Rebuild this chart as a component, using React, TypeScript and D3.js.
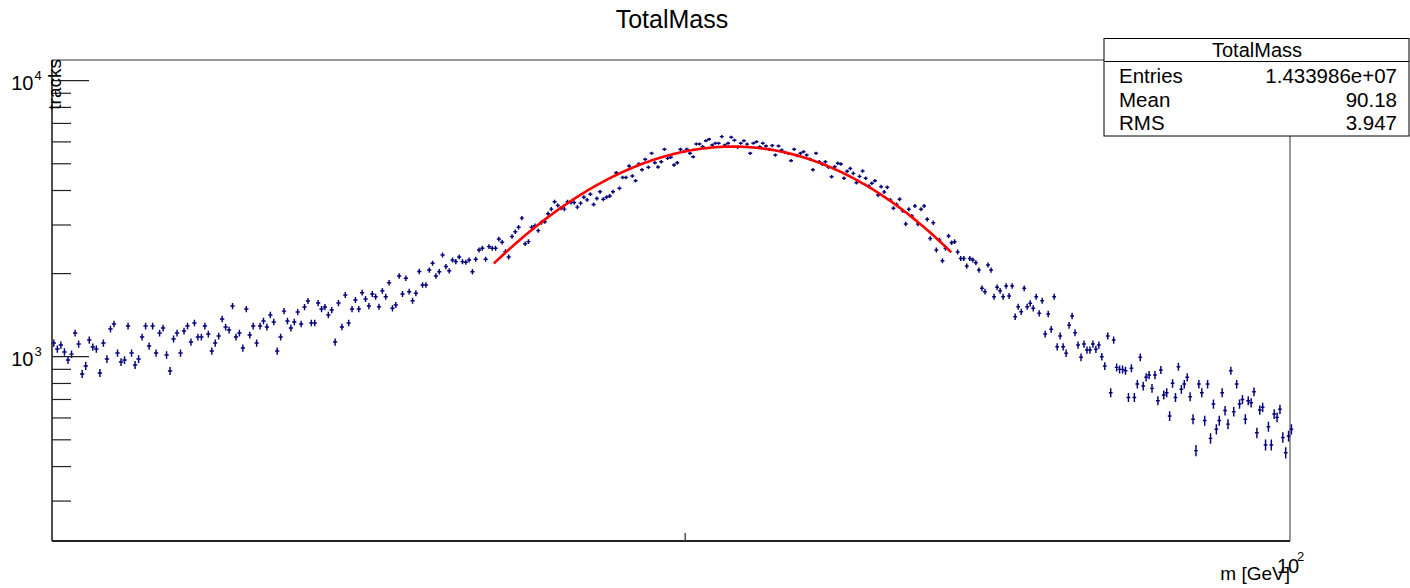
import React from 'react';
import * as d3 from 'd3';

// ---------- data ----------
const HIST_TITLE = 'TotalMass';
const X_LABEL = 'm [GeV]';
const Y_LABEL = 'tracks';
const X_LO = 80.6;
const X_HI = 100;
const BIN_W = 0.05;
const Y_MIN = 215;
const Y_MAX = 11880;

const countsA = [
  1121, 1066, 1102, 1040, 973, 1022, 1218, 1111, 866, 926,
  1149, 1084, 1066, 873, 1121, 981, 1260, 1314, 1031, 957,
  973, 1292, 1031, 934, 981, 1178, 1292, 1093, 1292, 1031,
  1218, 1270, 1014, 888, 1159, 1218, 1031, 1239, 1292, 1130,
  1325, 1178, 1178, 1292, 1208, 1048, 1121, 1188, 1370, 1281,
  1249, 1526, 1178, 1218, 1075, 1488, 1198, 1292, 1121, 1292,
  1347, 1281, 1416, 1336, 1048, 1178, 1463, 1347, 1270, 1336,
  1451, 1314, 1513, 1591, 1325, 1325, 1564, 1488, 1513, 1416,
  1476, 1130, 1564,
];
const countsB = [
  1282, 1673, 1325, 1488, 1605, 1488, 1706, 1619, 1526, 1688,
  1650, 1518, 1734, 1650, 1854, 1497, 1539, 1961, 1688, 1924,
  1720, 1595, 1698, 2036, 1819, 1819, 2061, 2180, 1961, 2032,
  2335, 2121, 2048, 2241, 2210, 2296, 2210, 2200, 2241, 2032,
  2254, 2436, 2472, 2254, 2505, 2472, 2472, 2668, 2600, 2400,
  2296, 2725, 2838, 2945, 3177, 2566, 2612, 2945, 2983, 2863,
  3063, 3084, 3297, 3425, 3645, 3528, 3455, 3425, 3645, 3622,
  3622, 3482,
];
const countsC = [3600, 3780, 3700, 3880, 3560, 3740];
const countsD = [
  3960, 3720, 3780, 3821, 3960, 4640, 4075, 4460, 4460, 4906,
  4514, 4340, 4989, 4760, 5190, 4855, 5455, 5045, 4870, 5085,
  5640, 5230, 5275, 4947, 5045, 5640, 5530, 5640, 5455, 5300,
  5896, 5896, 5765, 6060, 6130, 5847, 5930, 5930, 6270,
  5847, 5930, 6240, 6080, 5735, 5930, 6060, 5890, 5455, 5930,
  6010, 5760, 5930, 5798, 5640, 5820, 5378, 5798, 5607, 5500,
  5455, 5130, 5640, 5350, 5455, 5530, 5378, 5200, 4760, 5455,
  5085, 4980, 5085, 4855, 4490, 4880, 5020, 4989, 4430, 4700,
  4810, 4615, 4270, 4500, 4705, 4430, 4154, 4250, 4340, 3853,
  4130, 3950, 4110, 3696, 3450, 3560, 3720, 3380,
];
const countsE = [
  3025, 3420, 3234, 3516, 3025, 3420, 3516, 3146, 2680, 3057,
  2435, 2647, 2227, 2470, 2737, 2588, 2610, 2395, 2270, 2270,
  2131, 2270, 2240, 2190, 2061, 1769, 1720, 2149, 2061, 1650,
  1785, 1734, 1650, 1804, 1659, 1804, 1396, 1518, 1455, 1769,
  1518, 1561, 1497, 1650, 1436, 1595, 1208, 1428, 1257, 1650,
  1087, 1189, 1087, 1029, 1300, 1404, 1222, 1103, 995,
];
const countsF = [
  1112, 1057, 1057, 1112, 1064, 1103, 1000, 925, 1189, 741,
  1149, 915, 900, 900, 890, 712, 908, 712, 796, 995,
  783, 842, 858, 768, 858, 693, 895, 727, 741, 610,
  801, 712, 920, 762, 796, 842, 716, 594, 457, 796,
  741, 587, 796, 506, 674, 546, 587, 741, 638, 570,
  890, 632, 796, 674, 700, 594, 693, 681, 747, 530,
  641, 656, 479, 558, 479, 620, 603, 645, 510, 449,
  516, 546,
];
const counts = [...countsA, ...countsB, ...countsC, ...countsD, ...countsE, ...countsF];

// Gaussian fit parameters (red curve)
const FIT_CONST = 5770;
const FIT_MEAN = 90.75;
const FIT_SIGMA = 2.65;
const FIT_LO = 87.05;
const FIT_HI = 94.28;

const STATS_LABELS = ['Entries', 'Mean', 'RMS'];
const STATS_VALUES = ['1.433986e+07', '90.18', '3.947'];

const Y_MAJOR = [1000, 10000];
const Y_MAJOR_EXP = ['3', '4'];
const Y_MINOR = [300, 400, 500, 600, 700, 800, 900, 2000, 3000, 4000, 5000, 6000, 7000, 8000, 9000];
const X_TICKS = [90];

// ---------- layout ----------
const W = 1410;
const H = 588;
const FL = 52, FR = 1290, FT = 60, FB = 541;
const FONT = "'Liberation Sans', Arial, Helvetica, sans-serif";
const MARK = '#00007a';

export default function App() {
  const x = d3.scaleLog().domain([X_LO, X_HI]).range([FL, FR]);
  const y = d3.scaleLog().domain([Y_MIN, Y_MAX]).range([FB, FT]);

  let marks = '';
  counts.forEach((v, i) => {
    const lo = X_LO + i * BIN_W;
    const hi = lo + BIN_W;
    const c = lo + BIN_W / 2;
    const e = Math.sqrt(v);
    const yc = y(v);
    marks += `M${(x(lo) - 0.4).toFixed(2)},${yc.toFixed(2)}H${(x(hi) + 0.4).toFixed(2)}`;
    marks += `M${x(c).toFixed(2)},${y(v + e).toFixed(2)}V${y(Math.max(v - e, 1)).toFixed(2)}`;
  });

  const fitPts = d3.range(FIT_LO, FIT_HI + 1e-9, 0.02).map((m) => [
    m,
    FIT_CONST * Math.exp(-((m - FIT_MEAN) ** 2) / (2 * FIT_SIGMA * FIT_SIGMA)),
  ]);
  const fitPath = d3
    .line<number[]>()
    .x((d) => x(d[0]))
    .y((d) => y(d[1]))(fitPts as any);

  return (
    <svg
      width={W}
      height={H}
      style={{ position: 'absolute', left: 0, top: 0, background: '#fff' }}
      fontFamily={FONT}
    >
      <rect x={0} y={0} width={W} height={H} fill="#fff" />
      {/* title */}
      <text x={672} y={28} fontSize={25} textAnchor="middle" fill="#000">
        {HIST_TITLE}
      </text>

      {/* frame */}
      <line x1={FL} y1={FT} x2={FR} y2={FT} stroke="#333" strokeWidth={1} />
      <line x1={FR} y1={FT} x2={FR} y2={FB} stroke="#333" strokeWidth={1} />

      {/* data */}
      <path d={marks} stroke={MARK} strokeWidth={1.45} fill="none" />
      <path d={fitPath || ''} stroke="#ff0000" strokeWidth={2.6} fill="none" strokeLinejoin="round" />

      {/* y axis */}
      <line x1={FL} y1={FT} x2={FL} y2={FB} stroke="#222" strokeWidth={1.6} />
      {Y_MAJOR.map((t) => (
        <line key={'M' + t} x1={FL} x2={FL + 37} y1={y(t)} y2={y(t)} stroke="#222" strokeWidth={1.2} />
      ))}
      {Y_MINOR.map((t) => (
        <line key={'m' + t} x1={FL} x2={FL + 19} y1={y(t)} y2={y(t)} stroke="#222" strokeWidth={1.2} />
      ))}
      {Y_MAJOR.map((t, i) => (
        <g key={'L' + t}>
          <text x={33.5} y={y(t) + 9.5} fontSize={20} textAnchor="end" fill="#000">
            10
          </text>
          <text x={34.5} y={y(t) - 1} fontSize={13} textAnchor="start" fill="#000">
            {Y_MAJOR_EXP[i]}
          </text>
        </g>
      ))}
      <text
        x={60.5}
        y={59}
        fontSize={19}
        textAnchor="end"
        transform="rotate(-90,60.5,59)"
        fill="#000"
      >
        {Y_LABEL}
      </text>

      {/* x axis */}
      <line x1={FL} y1={FB} x2={FR} y2={FB} stroke="#222" strokeWidth={2} />
      {X_TICKS.map((t) => (
        <line key={'x' + t} x1={x(t)} x2={x(t)} y1={FB} y2={FB - 8} stroke="#444" strokeWidth={1.4} />
      ))}
      <text x={FR} y={580} fontSize={19} textAnchor="end" fill="#000">
        {X_LABEL}
      </text>
      <text x={1277} y={573} fontSize={20} textAnchor="start" fill="#000">
        10
      </text>
      <text x={1297} y={561} fontSize={13} textAnchor="start" fill="#000">
        2
      </text>

      {/* stats box */}
      <rect x={1104} y={38.5} width={305} height={97.5} fill="#fff" stroke="#000" strokeWidth={1} />
      <line x1={1104} y1={61.5} x2={1409} y2={61.5} stroke="#000" strokeWidth={1} />
      <text x={1257} y={57} fontSize={20} textAnchor="middle" fill="#000">
        {HIST_TITLE}
      </text>
      {STATS_LABELS.map((l, i) => (
        <g key={l}>
          <text x={1119} y={83 + i * 23.5} fontSize={20.5} fill="#000">
            {l}
          </text>
          <text x={1397} y={83 + i * 23.5} fontSize={20.5} textAnchor="end" fill="#000">
            {STATS_VALUES[i]}
          </text>
        </g>
      ))}
    </svg>
  );
}
